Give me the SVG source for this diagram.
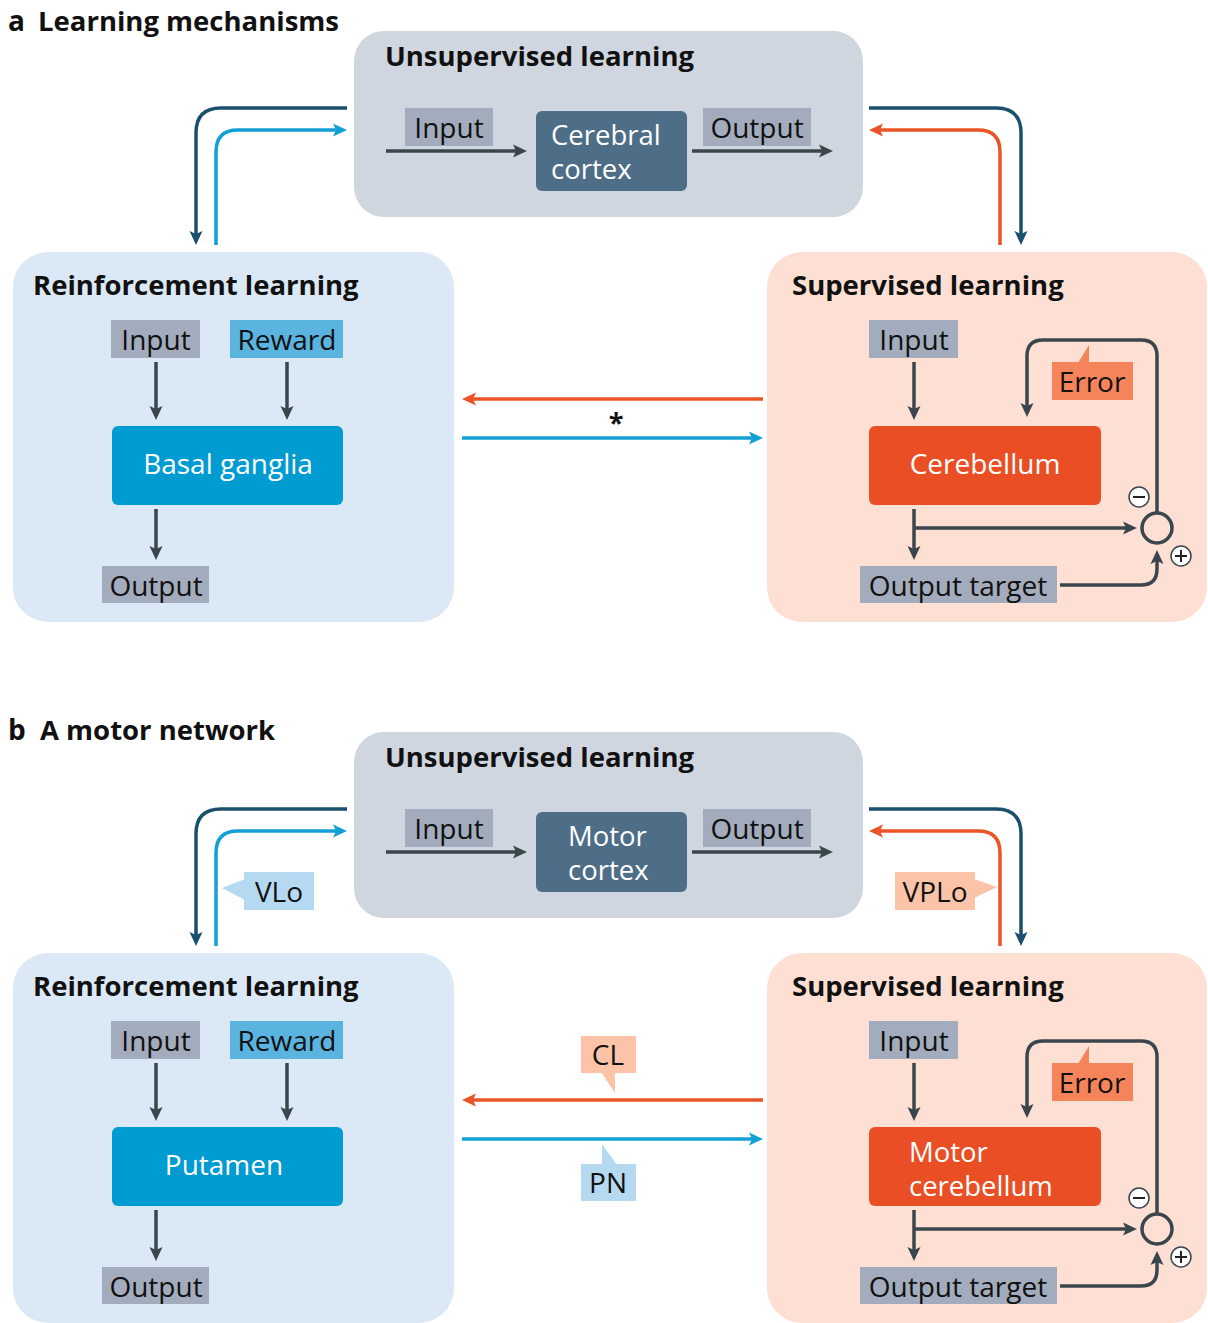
<svg xmlns="http://www.w3.org/2000/svg" width="1208" height="1323" viewBox="0 0 1208 1323">
<style>
text{font-family:"Open Sans","Noto Sans","Liberation Sans",sans-serif;fill:#111;}
.hd{font-weight:700;font-size:27.5px;}
.lb{font-size:28px;}
.lb2{font-size:27.5px;}
.c{text-anchor:middle;}
.w{fill:#fff;}
.lab{fill:#a3acbc;}
.unsup{fill:#cfd6e0;}
.rein{fill:#dbe9f6;}
.sup{fill:#fde0d3;}
.ctx{fill:#4e6d87;}
.bg{fill:#009bd1;}
.cb{fill:#e94e25;}
.rew{fill:#5ab4df;}
.err{fill:#f6845a;}
.peach{fill:#fbc3a7;}
.lblue{fill:#b5d9f0;}
.ag{stroke:#3b454c;stroke-width:3.5;fill:none;marker-end:url(#mg);}
.adb{stroke:#1b4f6e;stroke-width:3.5;fill:none;marker-end:url(#mdb);}
.alb{stroke:#12a0d6;stroke-width:3.5;fill:none;marker-end:url(#mlb);}
.aor{stroke:#ea5427;stroke-width:3.5;fill:none;marker-end:url(#mor);}
.ring{fill:none;stroke:#3b454c;stroke-width:3.5;}
.sgn{fill:#fff;stroke:#3b454c;stroke-width:1.5;}
</style>
<defs>
<marker id="mg" markerUnits="userSpaceOnUse" markerWidth="16" markerHeight="16" viewBox="0 0 16 16" refX="6" refY="8" orient="auto"><path d="M1,1.5 L15,8 L1,14.5 L4,8 z" fill="#3b454c"/></marker>
<marker id="mdb" markerUnits="userSpaceOnUse" markerWidth="16" markerHeight="16" viewBox="0 0 16 16" refX="6" refY="8" orient="auto"><path d="M1,1.5 L15,8 L1,14.5 L4,8 z" fill="#1b4f6e"/></marker>
<marker id="mlb" markerUnits="userSpaceOnUse" markerWidth="16" markerHeight="16" viewBox="0 0 16 16" refX="6" refY="8" orient="auto"><path d="M1,1.5 L15,8 L1,14.5 L4,8 z" fill="#12a0d6"/></marker>
<marker id="mor" markerUnits="userSpaceOnUse" markerWidth="16" markerHeight="16" viewBox="0 0 16 16" refX="6" refY="8" orient="auto"><path d="M1,1.5 L15,8 L1,14.5 L4,8 z" fill="#ea5427"/></marker>
</defs>

<!-- ===== Panel a ===== -->
<g id="panel-a">
<text x="8" y="31" style="font-weight:700;font-size:28px">a</text>
<text x="38" y="31" class="hd">Learning mechanisms</text>

<g id="a-unsupervised">
<rect x="354" y="31" width="509" height="186" rx="30" class="unsup"/>
<text x="385" y="66" class="hd">Unsupervised learning</text>
<rect x="405" y="108" width="88" height="38" class="lab"/>
<text x="449" y="138" class="lb c">Input</text>
<rect x="536" y="111" width="151" height="80" rx="6" class="ctx"/>
<text x="551" y="145" class="lb2 w">Cerebral</text>
<text x="551" y="179" class="lb2 w">cortex</text>
<rect x="703" y="108" width="108" height="38" class="lab"/>
<text x="757" y="138" class="lb c">Output</text>
<path d="M386,151 H518" class="ag"/>
<path d="M692,151 H824" class="ag"/>
</g>

<g id="a-reinforcement">
<rect x="13" y="252" width="441" height="370" rx="35" class="rein"/>
<text x="33" y="295" class="hd">Reinforcement learning</text>
<rect x="111" y="320" width="89" height="38" class="lab"/>
<text x="156" y="350" class="lb c">Input</text>
<rect x="230" y="320" width="113" height="38" class="rew"/>
<text x="287" y="350" class="lb c">Reward</text>
<rect x="112" y="426" width="231" height="79" rx="6" class="bg"/>
<text x="228" y="474" class="lb c w">Basal ganglia</text>
<rect x="102" y="566" width="107" height="37" class="lab"/>
<text x="156" y="596" class="lb c">Output</text>
<path d="M156,362 V411" class="ag"/>
<path d="M287,362 V411" class="ag"/>
<path d="M156,509 V551" class="ag"/>
</g>

<g id="a-supervised">
<rect x="767" y="252" width="440" height="370" rx="35" class="sup"/>
<text x="792" y="295" class="hd">Supervised learning</text>
<rect x="869" y="320" width="89" height="38" class="lab"/>
<text x="914" y="350" class="lb c">Input</text>
<rect x="869" y="426" width="232" height="79" rx="6" class="cb"/>
<text x="985" y="474" class="lb c w">Cerebellum</text>
<rect x="860" y="566" width="197" height="37" class="lab"/>
<text x="958" y="596" class="lb c">Output target</text>
<path d="M1157,512 V356 Q1157,340 1141,340 H1043 Q1027,340 1027,356 V408" class="ag"/>
<path d="M1078,363 L1089,345 L1089,363 z" class="err"/>
<rect x="1052" y="362" width="81" height="38" class="err"/>
<text x="1092" y="392" class="lb c">Error</text>
<path d="M914,362 V411" class="ag"/>
<path d="M914,509 V551" class="ag"/>
<path d="M914,528 H1128" class="ag"/>
<path d="M1060,585 H1141 Q1157,585 1157,569 V559" class="ag"/>
<circle cx="1157" cy="528" r="15" class="ring"/>
<circle cx="1139" cy="497" r="10" class="sgn"/>
<path d="M1133,497 H1145" stroke="#222" stroke-width="2"/>
<circle cx="1181" cy="556" r="10" class="sgn"/>
<path d="M1175,556 H1187 M1181,550 V562" stroke="#222" stroke-width="2"/>
</g>

<g id="a-connectors">
<path d="M347,108 H221 Q196,108 196,133 V236" class="adb"/>
<path d="M216,245 V152 Q216,130 238,130 H338" class="alb"/>
<path d="M869,108 H996 Q1021,108 1021,133 V236" class="adb"/>
<path d="M1000,245 V152 Q1000,130 978,130 H878" class="aor"/>
<path d="M763,399 H471" class="aor"/>
<path d="M462,438 H754" class="alb"/>
<text x="616" y="432" class="c" style="font-weight:700;font-size:27px">*</text>
</g>
</g>

<!-- ===== Panel b ===== -->
<g id="panel-b">
<text x="8" y="740" style="font-weight:700;font-size:28px">b</text>
<text x="40" y="740" class="hd">A motor network</text>

<g id="b-unsupervised">
<rect x="354" y="732" width="509" height="186" rx="30" class="unsup"/>
<text x="385" y="767" class="hd">Unsupervised learning</text>
<rect x="405" y="809" width="88" height="38" class="lab"/>
<text x="449" y="839" class="lb c">Input</text>
<rect x="536" y="812" width="151" height="80" rx="6" class="ctx"/>
<text x="568" y="846" class="lb2 w">Motor</text>
<text x="568" y="880" class="lb2 w">cortex</text>
<rect x="703" y="809" width="108" height="38" class="lab"/>
<text x="757" y="839" class="lb c">Output</text>
<path d="M386,852 H518" class="ag"/>
<path d="M692,852 H824" class="ag"/>
</g>

<g id="b-reinforcement">
<rect x="13" y="953" width="441" height="370" rx="35" class="rein"/>
<text x="33" y="996" class="hd">Reinforcement learning</text>
<rect x="111" y="1021" width="89" height="38" class="lab"/>
<text x="156" y="1051" class="lb c">Input</text>
<rect x="230" y="1021" width="113" height="38" class="rew"/>
<text x="287" y="1051" class="lb c">Reward</text>
<rect x="112" y="1127" width="231" height="79" rx="6" class="bg"/>
<text x="224" y="1175" class="lb c w">Putamen</text>
<rect x="102" y="1267" width="107" height="37" class="lab"/>
<text x="156" y="1297" class="lb c">Output</text>
<path d="M156,1063 V1112" class="ag"/>
<path d="M287,1063 V1112" class="ag"/>
<path d="M156,1210 V1252" class="ag"/>
</g>

<g id="b-supervised">
<rect x="767" y="953" width="440" height="370" rx="35" class="sup"/>
<text x="792" y="996" class="hd">Supervised learning</text>
<rect x="869" y="1021" width="89" height="38" class="lab"/>
<text x="914" y="1051" class="lb c">Input</text>
<rect x="869" y="1127" width="232" height="79" rx="6" class="cb"/>
<text x="909" y="1162" class="lb2 w">Motor</text>
<text x="909" y="1196" class="lb2 w">cerebellum</text>
<rect x="860" y="1267" width="197" height="37" class="lab"/>
<text x="958" y="1297" class="lb c">Output target</text>
<path d="M1157,1213 V1057 Q1157,1041 1141,1041 H1043 Q1027,1041 1027,1057 V1109" class="ag"/>
<path d="M1078,1064 L1089,1046 L1089,1064 z" class="err"/>
<rect x="1052" y="1063" width="81" height="38" class="err"/>
<text x="1092" y="1093" class="lb c">Error</text>
<path d="M914,1063 V1112" class="ag"/>
<path d="M914,1210 V1252" class="ag"/>
<path d="M914,1229 H1128" class="ag"/>
<path d="M1060,1286 H1141 Q1157,1286 1157,1270 V1260" class="ag"/>
<circle cx="1157" cy="1229" r="15" class="ring"/>
<circle cx="1139" cy="1198" r="10" class="sgn"/>
<path d="M1133,1198 H1145" stroke="#222" stroke-width="2"/>
<circle cx="1181" cy="1257" r="10" class="sgn"/>
<path d="M1175,1257 H1187 M1181,1251 V1263" stroke="#222" stroke-width="2"/>
</g>

<g id="b-connectors">
<path d="M347,809 H221 Q196,809 196,834 V937" class="adb"/>
<path d="M216,946 V853 Q216,831 238,831 H338" class="alb"/>
<path d="M869,809 H996 Q1021,809 1021,834 V937" class="adb"/>
<path d="M1000,946 V853 Q1000,831 978,831 H878" class="aor"/>
<path d="M763,1100 H471" class="aor"/>
<path d="M462,1139 H754" class="alb"/>
</g>

<g id="b-callouts">
<g id="vlo">
<path d="M245,879 L222,888 L245,900 z" class="lblue"/>
<rect x="244" y="872" width="70" height="38" class="lblue"/>
<text x="279" y="902" class="lb c">VLo</text>
</g>
<g id="vplo">
<path d="M974,879 L997,887 L974,898 z" class="peach"/>
<rect x="895" y="872" width="80" height="38" class="peach"/>
<text x="935" y="902" class="lb c">VPLo</text>
</g>
<g id="cl">
<path d="M601,1072 L615,1093 L615,1072 z" class="peach"/>
<rect x="581" y="1036" width="55" height="37" class="peach"/>
<text x="608" y="1065" class="lb c">CL</text>
</g>
<g id="pn">
<path d="M602,1144 L602,1165 L617,1165 z" class="lblue"/>
<rect x="581" y="1164" width="55" height="37" class="lblue"/>
<text x="608" y="1193" class="lb c">PN</text>
</g>
</g>
</g>
</svg>
